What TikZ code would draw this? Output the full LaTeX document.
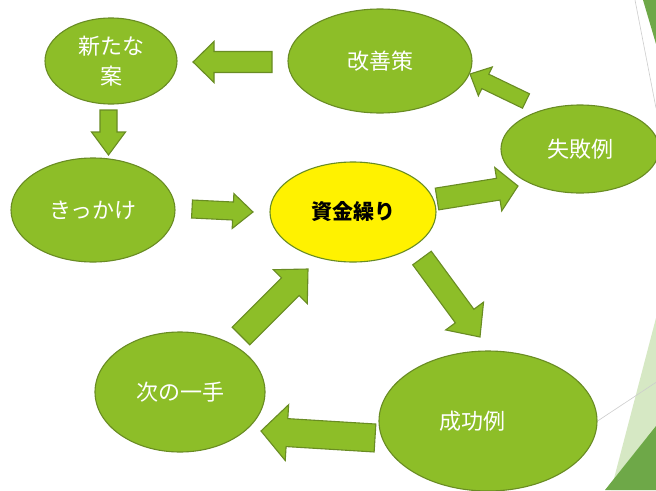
\documentclass[tikz,border=0pt]{standalone}
\usepackage{fontspec}
\newfontfamily\cjk{Noto Sans CJK JP}
\usetikzlibrary{shapes.geometric,calc}
\definecolor{leaf}{RGB}{141,190,40}
\definecolor{leafline}{RGB}{105,140,35}
\definecolor{decodark}{RGB}{110,168,72}
\definecolor{decolight}{RGB}{214,232,196}
\definecolor{thinline}{RGB}{205,205,205}
\tikzset{
  oval/.style={ellipse, draw=leafline, line width=1.1pt, fill=leaf, inner sep=0pt,
    text=white, font=\cjk\fontsize{22}{30}\selectfont, align=center},
  hub/.style={oval, fill=yellow, text=black, font=\cjk\bfseries\fontsize{21}{26}\selectfont},
  barrow/.style={draw=leafline, line width=1.1pt, fill=leaf, line join=miter},
}
\newcommand\blockarr[5]{%
  \path ($(#2)!#5pt!(#1)$) coordinate (hb);
  \draw[barrow] ($(#1)!#3pt!90:(#2)$) -- ($(hb)!#3pt!-90:(#1)$) -- ($(hb)!#4pt!-90:(#1)$) -- (#2)
    -- ($(hb)!#4pt!90:(#1)$) -- ($(hb)!#3pt!90:(#1)$) -- ($(#1)!#3pt!-90:(#2)$) -- cycle;
}
\begin{document}
\begin{tikzpicture}[x=1pt,y=-1pt]
\useasboundingbox[fill=white] (0,0) rectangle (656,490);
% background decoration
\fill[decolight] (656,318) -- (656,490) -- (611,490) -- cycle;
\fill[decodark] (656,426) -- (656,490) -- (605,490) -- cycle;
\fill[decodark] (643,0) -- (656,0) -- (656,44) -- cycle;
\draw[thinline, line width=0.6pt] (635,0) -- (656,108);
% nodes
\node[oval, minimum width=132pt, minimum height=86pt] (shin) at (111,61) {新たな\\案};
\node[oval, minimum width=184pt, minimum height=104pt] (kaizen) at (380,61) {改善策};
\node[oval, minimum width=158pt, minimum height=88pt] (shippai) at (580,149) {失敗例};
\node[oval, minimum width=164pt, minimum height=104pt] (kikkake) at (93,210) {きっかけ};
\node[hub, minimum width=166pt, minimum height=100pt] (shikin) at (353,212) {資金繰り};
\node[oval, minimum width=170pt, minimum height=120pt] (tsugi) at (180,392) {次の一手};
\node[oval, minimum width=218pt, minimum height=140pt,
  label={[text=white, font=\cjk\fontsize{22}{26}\selectfont, xshift=-16pt]center:成功例}] (seiko) at (488,421) {};
\draw[thinline, line width=0.6pt] (seiko.east) -- ++(59,-39) coordinate (e1);
% arrow end points
\coordinate (a1t) at (272,62);  \coordinate (a1h) at (193,62);
\coordinate (a2t) at (108.5,110); \coordinate (a2h) at (108.5,155);
\coordinate (a3t) at (192,209); \coordinate (a3h) at (253,212);
\coordinate (a4t) at (437,199); \coordinate (a4h) at (518,186);
\coordinate (a5t) at (526,101); \coordinate (a5h) at (470,74);
\coordinate (a6t) at (422,258); \coordinate (a6h) at (480,337);
\coordinate (a7t) at (241,336); \coordinate (a7h) at (308,269);
\coordinate (a8t) at (375,438); \coordinate (a8h) at (261,431);
% block arrows
\blockarr{a1t}{a1h}{10.5}{20.5}{21}
\blockarr{a2t}{a2h}{8.5}{17}{23}
\blockarr{a3t}{a3h}{9}{17.5}{20}
\blockarr{a4t}{a4h}{11}{22}{20}
\blockarr{a5t}{a5h}{8}{16}{17}
\blockarr{a6t}{a6h}{11.5}{23.5}{26}
\blockarr{a7t}{a7h}{12.5}{24}{25}
\blockarr{a8t}{a8h}{14}{28}{26}
\end{tikzpicture}
\end{document}
